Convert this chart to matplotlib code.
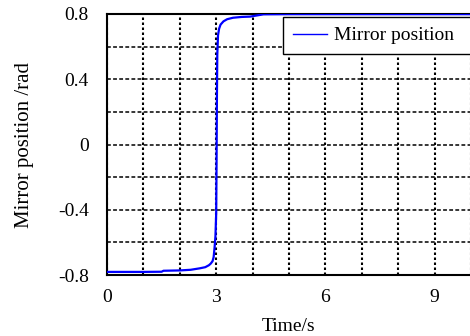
import matplotlib.pyplot as plt

plt.rcParams.update({
    'font.family': ['Liberation Serif', 'DejaVu Serif'],
    'font.size': 14,
})

# Estimated samples of the mirror position response
time_s = [0, 0.5, 1.0, 1.5, 1.55, 2.0, 2.3, 2.55, 2.7, 2.8, 2.85, 2.9, 2.93,
          2.96, 2.98, 3.0, 3.01, 3.02, 3.03, 3.05, 3.08, 3.12, 3.2, 3.3,
          3.46, 3.7, 3.93, 4.3, 5.0, 6.0, 8.0, 10.5]
position = [-0.781, -0.781, -0.781, -0.780, -0.774, -0.772, -0.768, -0.759,
            -0.752, -0.740, -0.730, -0.715, -0.690, -0.620, -0.560, -0.420,
            -0.100, 0.300, 0.550, 0.670, 0.710, 0.735, 0.755, 0.768, 0.777,
            0.782, 0.784, 0.798, 0.799, 0.799, 0.799, 0.799]

x_ticks = [0, 3, 6, 9]
y_ticks = [-0.8, -0.4, 0, 0.4, 0.8]
y_ticklabels = ['-0.8', '-0.4', '0', '0.4', '0.8']

fig = plt.figure(figsize=(4.7, 3.36), dpi=100)
ax = fig.add_axes([107 / 470, 61 / 336, 364 / 470, 261 / 336])

ax.plot(time_s, position, color='blue', lw=1.6, label='Mirror position',
        zorder=5)

ax.set_xlim(0, 10)
ax.set_ylim(-0.8, 0.8)
ax.set_xticks(x_ticks)
ax.set_yticks(y_ticks)
ax.set_yticklabels(y_ticklabels)
ax.set_xticks([1, 2, 4, 5, 7, 8, 10], minor=True)
ax.set_yticks([-0.6, -0.2, 0.2, 0.6], minor=True)
ax.tick_params(which='both', length=0)
ax.tick_params(axis='y', pad=13)
ax.tick_params(axis='x', pad=10)

ax.grid(True, axis='x', which='both', color='black', ls=(0, (1.2, 1.2)), lw=1.5)
ax.grid(True, axis='y', which='both', color='black', ls=(0, (2.5, 1.5)), lw=1.1)
ax.set_axisbelow(True)

for side in ['left', 'bottom', 'top']:
    ax.spines[side].set_linewidth(1.5)
ax.spines['right'].set_visible(False)

ax.set_xlabel('Time/s', labelpad=9)
ax.set_ylabel('Mirror position /rad', fontsize=15, labelpad=17)

leg = ax.legend(loc='upper left', bbox_to_anchor=(0.4835, 0, 0.62, 0.9885),
                mode='expand', borderaxespad=0, frameon=True,
                fancybox=False, framealpha=1, edgecolor='black',
                handlelength=1.75, borderpad=0.5, handletextpad=0.35)
leg.get_frame().set_linewidth(1.0)
leg.get_lines()[0].set_linewidth(1.0)

fig.savefig('out.png', dpi=100)
